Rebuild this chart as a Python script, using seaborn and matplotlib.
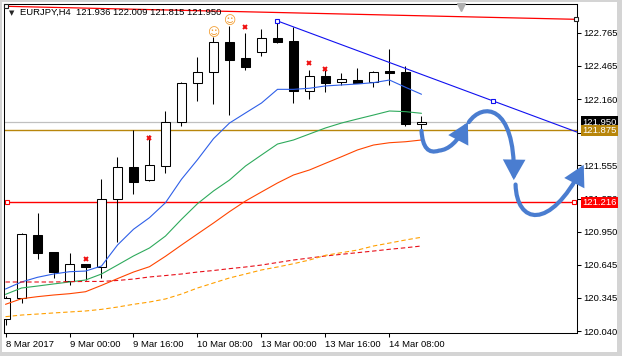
import numpy as np
import pandas as pd
import matplotlib
matplotlib.use('Agg')
import matplotlib.pyplot as plt
import matplotlib.transforms as mtransforms
from matplotlib.path import Path
from matplotlib.patches import FancyArrowPatch, Rectangle
import seaborn as sns

# EURJPY H4 candles, 8 Mar 2017 08:00 .. 14 Mar 16:00
opens = [120.154, 120.346, 120.916, 120.760, 120.498, 120.651, 120.629, 121.245, 121.543,
         121.419, 121.552, 121.949, 122.305, 122.406, 122.680, 122.534, 122.594, 122.717,
         122.692, 122.235, 122.372, 122.314, 122.335, 122.320, 122.418, 122.411, 121.936]
highs = [120.360, 120.940, 121.122, 120.765, 120.751, 120.655, 121.430, 121.634, 121.878,
         121.833, 122.052, 122.320, 122.543, 122.731, 122.829, 122.768, 122.799, 122.866,
         122.823, 122.427, 122.430, 122.397, 122.442, 122.415, 122.616, 122.463, 122.009]
lows = [120.096, 120.300, 120.697, 120.522, 120.462, 120.507, 120.528, 120.857, 121.290,
        121.410, 121.488, 121.918, 122.146, 122.116, 122.015, 122.427, 122.558, 122.676,
        122.128, 122.164, 122.228, 122.290, 122.305, 122.274, 122.290, 121.918, 121.815]
closes = [120.346, 120.925, 120.751, 120.577, 120.651, 120.629, 121.245, 121.543, 121.406,
          121.558, 121.949, 122.305, 122.406, 122.680, 122.518, 122.457, 122.717, 122.685,
          122.235, 122.372, 122.311, 122.344, 122.311, 122.411, 122.402, 121.933, 121.950]

# moving averages
ma_blue = [120.425, 120.489, 120.532, 120.562, 120.583, 120.589, 120.635, 120.827, 120.971,
           121.077, 121.214, 121.428, 121.607, 121.799, 121.942, 122.034, 122.125, 122.250,
           122.250, 122.260, 122.281, 122.290, 122.299, 122.311, 122.335, 122.269, 122.205]
ma_green = [120.376, 120.434, 120.452, 120.471, 120.489, 120.507, 120.562, 120.644, 120.727,
            120.800, 120.909, 121.062, 121.205, 121.321, 121.421, 121.549, 121.650, 121.750,
            121.787, 121.842, 121.897, 121.942, 121.979, 122.015, 122.052, 122.046, 122.031]
ma_orange = [120.285, 120.336, 120.355, 120.370, 120.382, 120.400, 120.458, 120.520, 120.580,
             120.629, 120.724, 120.827, 120.928, 121.028, 121.132, 121.229, 121.312, 121.394,
             121.467, 121.513, 121.574, 121.634, 121.696, 121.741, 121.762, 121.771, 121.787]
ma_red_dash = [120.489, 120.489, 120.489, 120.489, 120.492, 120.494, 120.494, 120.503, 120.516,
               120.535, 120.548, 120.562, 120.580, 120.594, 120.611, 120.626, 120.644, 120.667,
               120.690, 120.708, 120.727, 120.742, 120.757, 120.772, 120.788, 120.802, 120.818]
ma_orange_dash = [120.172, 120.187, 120.196, 120.206, 120.215, 120.224, 120.239, 120.260, 120.285,
                  120.306, 120.334, 120.379, 120.434, 120.480, 120.526, 120.562, 120.599, 120.626,
                  120.656, 120.690, 120.733, 120.757, 120.781, 120.818, 120.845, 120.873, 120.898]

# x axis labels (bar index -> time)
tick_bars = [0, 4, 8, 12, 16, 20, 24]
tick_labels = ['8 Mar 2017', '9 Mar 00:00', '9 Mar 16:00', '10 Mar 08:00',
               '13 Mar 00:00', '13 Mar 16:00', '14 Mar 08:00']
price_ticks = [122.765, 122.465, 122.160, 121.855, 121.555, 121.250,
               120.950, 120.645, 120.345, 120.040]

# signal markers
smiley_bars = [13, 14]
smiley_prices = [122.771, 122.875]
cross_bars = [5, 9, 15, 19, 20]
cross_prices = [120.702, 121.805, 122.817, 122.488, 122.439]

# drawn objects
bid_price = 121.950
gold_level = 121.875
red_level = 121.216
red_level_ends = [0.1, 35.56]
top_trend_bars = [0.0, 35.66]
top_trend_prices = [123.009, 122.890]
blue_trend_bars = [17, 30.49]
blue_trend_prices = [122.875, 122.143]

# hand drawn forecast arrows (bar, price) control points
arrow1_x = [26.0, 26.1, 27.1, 28.0, 28.9]
arrow1_y = [121.87, 121.64, 121.69, 121.70, 121.95]
arrow2_x = [28.96, 29.8, 31.85, 31.77]
arrow2_y = [121.95, 122.13, 122.12, 121.42]
arrow3_x = [31.88, 31.95, 34.0, 36.14]
arrow3_y = [121.38, 121.02, 120.95, 121.56]

bars = np.arange(len(opens))

sns.set_style('ticks')
plt.rcParams['font.family'] = ['Liberation Sans', 'DejaVu Sans']
plt.rcParams['font.size'] = 6.8

fig = plt.figure(figsize=(6.22, 3.56), dpi=100)
fig.patch.set_facecolor('#D4D4D4')
fig.patches.append(Rectangle((2 / 622, 4 / 356), 615 / 622, 350 / 356,
                             transform=fig.transFigure, fc='white', ec='none', zorder=-5))
ax = fig.add_axes([4 / 622, 23 / 356, 573 / 622, 329 / 356])
ax.set_facecolor('white')

# candles
o = np.array(opens)
c = np.array(closes)
body_lo = np.minimum(o, c)
body_h = np.maximum(np.abs(c - o), 0.004)
body_col = np.where(c >= o, 'white', 'black')
ax.vlines(bars, lows, highs, color='black', lw=0.75, zorder=3)
ax.bar(bars, body_h, bottom=body_lo, width=0.62, color=body_col,
       edgecolor='black', linewidth=0.75, zorder=4)

# moving averages
ma_df = pd.DataFrame({'bar': bars, 'blue': ma_blue, 'green': ma_green, 'orange': ma_orange,
                      'red_dash': ma_red_dash, 'orange_dash': ma_orange_dash})
ma_styles = [('blue', '#2E5FE8', '-'), ('green', '#2EAA5C', '-'), ('orange', '#FF4500', '-'),
             ('red_dash', '#E8101A', (0, (4, 2.5))), ('orange_dash', '#FFA000', (0, (4, 2.5)))]
for col, color, ls in ma_styles:
    sns.lineplot(data=ma_df, x='bar', y=col, color=color, lw=0.8, linestyle=ls, ax=ax, zorder=5)

xmin, xmax = -0.094, 35.72
ymin, ymax = 120.0228, 123.030

# horizontal levels
ax.axhline(bid_price, color='#C0C0C0', lw=0.9, zorder=2)
ax.axhline(gold_level, color='#B8860B', lw=1.0, zorder=2)
ax.axhline(red_level, color='red', lw=1.0, zorder=2)
ax.plot(red_level_ends, [red_level] * 2, ls='none', marker='s', ms=3.5, mfc='white',
        mec='red', mew=0.8, zorder=6, clip_on=False)

# trend lines
ax.plot(top_trend_bars, top_trend_prices, color='red', lw=0.9, zorder=6, marker='s', ms=3.2,
        mfc='white', mec='#202020', mew=0.8, clip_on=False)
slope = (blue_trend_prices[1] - blue_trend_prices[0]) / (blue_trend_bars[1] - blue_trend_bars[0])
ax.plot([blue_trend_bars[0], xmax],
        [blue_trend_prices[0], blue_trend_prices[0] + slope * (xmax - blue_trend_bars[0])],
        color='#1010F0', lw=0.8, zorder=6)
ax.plot(blue_trend_bars, blue_trend_prices, ls='none', marker='s', ms=3.5, mfc='white',
        mec='#1010F0', mew=0.8, zorder=7)

# signal markers
for b, p in zip(smiley_bars, smiley_prices):
    ax.text(b, p, '\u263A', color='#F39A2A', fontsize=8.5, ha='center', va='center',
            family=['DejaVu Sans'], zorder=7)
ax.plot(cross_bars, cross_prices, ls='none', marker='x', ms=3.5, mew=1.4, color='#F01010', zorder=7)

# forecast arrows
arrow_col = '#4A7DD0'
paths = [
    Path(list(zip(arrow1_x, arrow1_y)), [Path.MOVETO, Path.CURVE3, Path.CURVE3, Path.CURVE3, Path.CURVE3]),
    Path(list(zip(arrow2_x, arrow2_y)), [Path.MOVETO, Path.CURVE4, Path.CURVE4, Path.CURVE4]),
    Path(list(zip(arrow3_x, arrow3_y)), [Path.MOVETO, Path.CURVE4, Path.CURVE4, Path.CURVE4]),
]
for pth in paths:
    arr = FancyArrowPatch(path=pth, arrowstyle='-|>,head_length=0.6,head_width=0.33',
                          mutation_scale=17, color=arrow_col, lw=3.0, zorder=9,
                          joinstyle='miter', capstyle='round')
    arr.set_clip_on(False)
    ax.add_patch(arr)

# axes setup
ax.set_xlim(xmin, xmax)
ax.set_ylim(ymin, ymax)
ax.set_xlabel('')
ax.set_ylabel('')
ax.set_xticks(tick_bars)
ax.set_xticklabels(tick_labels, ha='left')
ax.set_yticks(price_ticks)
ax.set_yticklabels([f'{v:.3f}' for v in price_ticks])
ax.tick_params(axis='x', bottom=True, length=3, width=0.75, pad=2, color='black', labelcolor='black')
ax.tick_params(axis='y', left=False, right=True, labelleft=False, labelright=True,
               length=3, width=0.75, pad=1.5, color='black', labelcolor='black')
for sp in ax.spines.values():
    sp.set_visible(True)
    sp.set_color('black')
    sp.set_linewidth(0.75)

# price boxes on the right scale
trans = mtransforms.blended_transform_factory(ax.transAxes, ax.transData)
for price, fc in [(bid_price, 'black'), (gold_level, '#B8860B'), (red_level, '#FF0000')]:
    ax.text(1.0 + 5 / 573, price, f'{price:.3f}', transform=trans, ha='left', va='center',
            color='white', zorder=10, clip_on=False,
            bbox=dict(boxstyle='square,pad=0.14', fc=fc, ec='none'))

# chart shift marker
ax.plot([28.47], [1 - 2.5 / 329], transform=mtransforms.blended_transform_factory(ax.transData, ax.transAxes),
        marker='v', ms=6, color='#B0B0B0', ls='none', clip_on=False, zorder=8)

# header
fig.text(9 / 622, 1 - 13 / 356, '\u25BC', fontsize=5, va='center', ha='left',
         family=['DejaVu Sans'])
fig.text(20 / 622, 1 - 12.5 / 356, 'EURJPY,H4  121.936 122.009 121.815 121.950',
         va='center', ha='left', color='black')

fig.savefig('out.png', dpi=100)
